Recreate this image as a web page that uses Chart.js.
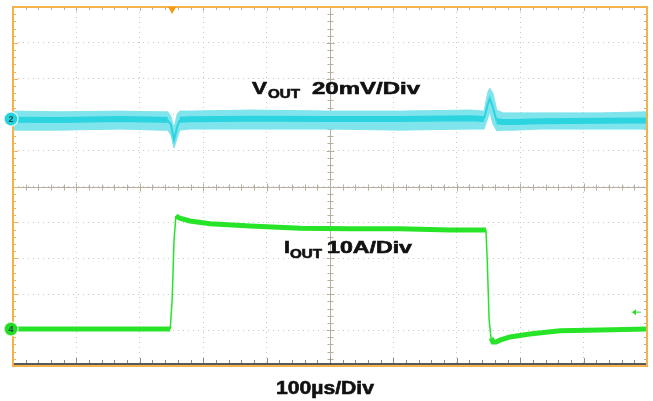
<!DOCTYPE html>
<html>
<head>
<meta charset="utf-8">
<script src="https://cdn.jsdelivr.net/npm/chart.js@4.4.0/dist/chart.umd.min.js"></script>
<style>
  body { margin: 0; background: #fff; }
  canvas { display: block; }
</style>
</head>
<body>
<canvas id="scope" width="653" height="401"></canvas>
<script>
// time in µs (100 µs per division), levels in screen divisions (centre = 0)
const vTimes = [0, 74, 169, 232, 244, 249, 254, 259, 263, 279, 374, 500, 610, 721, 743, 749, 752, 757, 763, 773, 792, 831, 926, 1000];
const vUpper = [2.10, 2.08, 2.10, 2.08, 2.08, 1.96, 1.63, 2.02, 2.10, 2.10, 2.13, 2.10, 2.10, 2.13, 2.10, 2.63, 2.74, 2.60, 2.13, 2.05, 2.05, 2.05, 2.05, 2.08];
const vLower = [1.57, 1.57, 1.60, 1.57, 1.57, 1.43, 1.07, 1.35, 1.57, 1.60, 1.60, 1.60, 1.57, 1.60, 1.60, 1.91, 2.08, 1.74, 1.55, 1.57, 1.57, 1.60, 1.60, 1.60];
const vCore  = [1.86, 1.85, 1.88, 1.86, 1.85, 1.72, 1.30, 1.66, 1.86, 1.87, 1.89, 1.88, 1.88, 1.90, 1.88, 2.30, 2.45, 2.20, 1.82, 1.80, 1.80, 1.82, 1.83, 1.84];

const iTimes = [0, 137, 248, 251, 254, 257, 263, 279, 311, 374, 453, 532, 610, 689, 746, 748, 751, 754, 757, 762, 768, 784, 815, 863, 926, 1000];
const iLevel = [-3.97, -3.97, -3.97, -3.16, -1.49, -0.82, -0.88, -0.96, -1.04, -1.10, -1.16, -1.18, -1.18, -1.21, -1.21, -2.05, -3.72, -4.22, -4.33, -4.33, -4.28, -4.19, -4.11, -4.02, -4.00, -3.97];

const vGround = 1.88;   // channel 2 marker
const iGround = -3.97;  // channel 4 marker
const trigTime = 251;
const trigLevel = -3.5;

const vLabel = ['V', 'OUT', '20mV/Div'];
const iLabel = ['I', 'OUT', '10A/Div'];
const timeLabel = '100µs/Div';

const pts = (xs, ys) => xs.map((t, i) => ({x: t, y: ys[i]}));

// thin stroke on steep edges, wide trace elsewhere
const steep = (wide, thin, limit) => ctx => {
  const dx = Math.max(ctx.p1.parsed.x - ctx.p0.parsed.x, 0.01);
  const dy = Math.abs(ctx.p1.parsed.y - ctx.p0.parsed.y);
  return dy / dx > limit ? thin : wide;
};

function wideText(ctx, str, left, base, font, width) {
  ctx.font = font;
  const w = ctx.measureText(str).width;
  ctx.save();
  ctx.translate(left, base);
  ctx.scale(width / w, 1);
  ctx.fillText(str, 0, 0);
  ctx.lineWidth = 0.6;
  ctx.strokeText(str, 0, 0);
  ctx.restore();
}

function seg(ctx, x1, y1, x2, y2) {
  ctx.beginPath();
  ctx.moveTo(x1, y1);
  ctx.lineTo(x2, y2);
  ctx.stroke();
}

const scopeDecor = {
  id: 'scopeDecor',
  beforeDatasetsDraw(chart) {
    const {ctx, chartArea: a, scales: {x, y}} = chart;
    const cx = Math.round(x.getPixelForValue(500)) + 0.5;
    const cy = Math.round(y.getPixelForValue(0)) + 0.5;
    ctx.save();
    ctx.strokeStyle = '#b8b09e';
    ctx.lineWidth = 1;
    seg(ctx, a.left, cy, a.right, cy);
    seg(ctx, cx, a.top, cx, a.bottom);
    for (let t = 20; t < 1000; t += 20) {
      const px = Math.round(x.getPixelForValue(t)) + 0.5;
      const len = t % 100 === 0 ? 4 : 3;
      seg(ctx, px, cy - len, px, cy + len);
      seg(ctx, px, a.top, px, a.top + len);
    }
    for (let k = -24; k <= 24; k++) {
      const py = Math.round(y.getPixelForValue(k / 5)) + 0.5;
      const len = k % 5 === 0 ? 4 : 3;
      seg(ctx, cx - len, py, cx + len, py);
      seg(ctx, a.right - len, py, a.right, py);
    }
    // left edge ticks are orange on the scope
    ctx.strokeStyle = '#f3b45a';
    for (let k = -24; k <= 24; k++) {
      const py = Math.round(y.getPixelForValue(k / 5)) + 0.5;
      seg(ctx, a.left, py, a.left + (k % 5 === 0 ? 5 : 3), py);
    }
    ctx.restore();
  },
  afterDraw(chart) {
    const {ctx, chartArea: a, scales: {x, y}} = chart;
    ctx.save();
    // bottom edge: black rule with ticks
    ctx.strokeStyle = '#222';
    ctx.lineWidth = 1.5;
    seg(ctx, a.left, a.bottom - 2, a.right, a.bottom - 2);
    ctx.lineWidth = 1;
    ctx.strokeStyle = '#8a8a8a';
    for (let t = 20; t < 1000; t += 20) {
      const px = Math.round(x.getPixelForValue(t)) + 0.5;
      seg(ctx, px, a.bottom - 3, px, a.bottom - (t % 100 === 0 ? 8 : 6));
    }
    // orange frame
    ctx.strokeStyle = '#f6b24a';
    ctx.lineWidth = 2;
    ctx.strokeRect(a.left, a.top, a.right - a.left, a.bottom - a.top);

    // trigger position marker
    const tx = x.getPixelForValue(trigTime);
    ctx.fillStyle = '#f39c12';
    ctx.beginPath();
    ctx.moveTo(tx - 4, a.top);
    ctx.lineTo(tx + 4, a.top);
    ctx.lineTo(tx, a.top + 7);
    ctx.closePath();
    ctx.fill();

    // trigger level arrow (green, right side)
    const ty = y.getPixelForValue(trigLevel);
    ctx.strokeStyle = '#22dd22';
    ctx.fillStyle = '#22dd22';
    ctx.lineWidth = 1;
    seg(ctx, a.right - 14, ty, a.right - 6, ty);
    ctx.beginPath();
    ctx.moveTo(a.right - 15, ty);
    ctx.lineTo(a.right - 11, ty - 3);
    ctx.lineTo(a.right - 11, ty + 3);
    ctx.closePath();
    ctx.fill();

    // channel ground markers
    const marks = [[vGround, '#22d3dd', '2'], [iGround, '#22dd22', '4']];
    marks.forEach(([v, col, txt]) => {
      const my = y.getPixelForValue(v);
      ctx.beginPath();
      ctx.arc(a.left - 2, my, 7, 0, Math.PI * 2);
      ctx.fillStyle = col;
      ctx.fill();
      ctx.lineWidth = 1.5;
      ctx.strokeStyle = 'rgba(255,255,255,0.7)';
      ctx.stroke();
      ctx.fillStyle = '#1a4a4a';
      ctx.font = 'bold 9px "Liberation Sans", Arial, sans-serif';
      ctx.textAlign = 'center';
      ctx.textBaseline = 'middle';
      ctx.fillText(txt, a.left - 2, my + 0.5);
    });

    // labels
    ctx.textAlign = 'left';
    ctx.textBaseline = 'alphabetic';
    ctx.fillStyle = '#111';
    ctx.strokeStyle = '#111';
    const big = 'bold 17px "Liberation Sans", Arial, sans-serif';
    const small = 'bold 12px "Liberation Sans", Arial, sans-serif';
    wideText(ctx, vLabel[0], 252, 94, big, 15);
    wideText(ctx, vLabel[1], 268, 98, small, 32);
    wideText(ctx, vLabel[2], 312, 94, big, 108);
    wideText(ctx, iLabel[0], 284, 253, big, 6);
    wideText(ctx, iLabel[1], 290, 258, small, 32);
    wideText(ctx, iLabel[2], 327, 253, big, 85);
    wideText(ctx, timeLabel, 276, 394, 'bold 18px "Liberation Sans", Arial, sans-serif', 98);
    ctx.restore();
  }
};

// datasets draw in reverse order, so the core trace sits before the band pair
new Chart(document.getElementById('scope'), {
  type: 'line',
  data: {
    datasets: [
      {
        data: pts(iTimes, iLevel),
        borderColor: '#28e428',
        borderWidth: 5,
        pointRadius: 0,
        fill: false,
        tension: 0,
        segment: {borderWidth: steep(5, 1.5, 0.12)}
      },
      {
        data: pts(vTimes, vCore),
        borderColor: '#2cd4df',
        borderWidth: 6,
        pointRadius: 0,
        fill: false,
        tension: 0,
        segment: {borderWidth: steep(6, 2, 0.02)}
      },
      {
        data: pts(vTimes, vLower),
        borderColor: '#7fe4eb',
        borderWidth: 1,
        pointRadius: 0,
        fill: false,
        tension: 0
      },
      {
        data: pts(vTimes, vUpper),
        borderColor: '#7fe4eb',
        backgroundColor: '#7fe4eb',
        borderWidth: 1,
        pointRadius: 0,
        fill: '-1',
        tension: 0
      }
    ]
  },
  options: {
    responsive: false,
    animation: false,
    devicePixelRatio: 1,
    layout: {padding: {left: 13, top: 7, right: 6, bottom: 35}},
    plugins: {legend: {display: false}, tooltip: {enabled: false}},
    scales: {
      x: {
        type: 'linear', min: 0, max: 1000,
        ticks: {display: false, stepSize: 100},
        grid: {color: '#c9c9c9', drawTicks: false},
        border: {display: false, dash: [1, 4]}
      },
      y: {
        type: 'linear', min: -5, max: 5,
        ticks: {display: false, stepSize: 1},
        grid: {color: '#c9c9c9', drawTicks: false},
        border: {display: false, dash: [1, 4]}
      }
    }
  },
  plugins: [scopeDecor]
});
</script>
</body>
</html>
